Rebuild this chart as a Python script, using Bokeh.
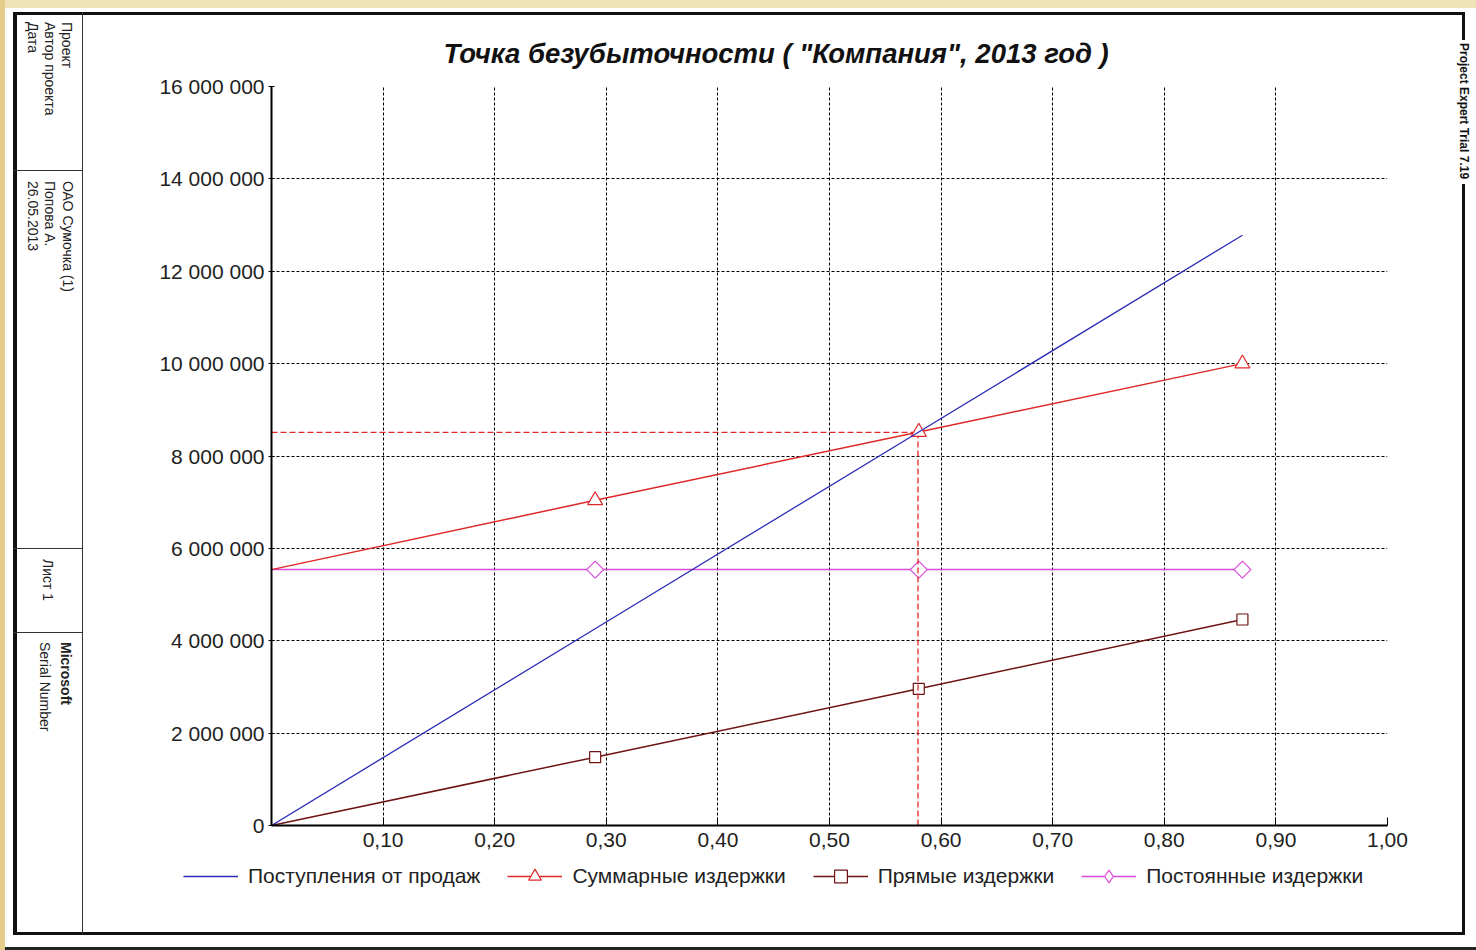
import numpy as np
from bokeh.plotting import figure
from bokeh.layouts import column, row
from bokeh.models import Range1d, FixedTicker, Legend, LegendItem, Div
from bokeh.embed import file_html
from bokeh.resources import INLINE

# ---------------- data ----------------
title_text = 'Точка безубыточности ( "Компания", 2013 год )'
series_names = ["Поступления от продаж", "Суммарные издержки",
                "Прямые издержки", "Постоянные издержки"]
share = [0.0, 0.29, 0.58, 0.87]
revenue = [0, 4_260_000, 8_520_000, 12_780_000]
total_costs = [5_540_000, 7_040_000, 8_520_000, 10_000_000]
direct_costs = [0, 1_480_000, 2_960_000, 4_460_000]
fixed_costs = [5_540_000, 5_540_000, 5_540_000, 5_540_000]

x_ticks = [0.1, 0.2, 0.3, 0.4, 0.5, 0.6, 0.7, 0.8, 0.9, 1.0]
x_tick_labels = ["0,10", "0,20", "0,30", "0,40", "0,50",
                 "0,60", "0,70", "0,80", "0,90", "1,00"]
y_ticks = [0, 2_000_000, 4_000_000, 6_000_000, 8_000_000,
           10_000_000, 12_000_000, 14_000_000, 16_000_000]
y_tick_labels = ["0", "2 000 000", "4 000 000", "6 000 000", "8 000 000",
                 "10 000 000", "12 000 000", "14 000 000", "16 000 000"]

side_heads = ["Проект", "Автор проекта", "Дата"]
side_values = ["ОАО Сумочка (1)", "Попова А.", "26.05.2013"]
sheet_text = "Лист 1"
footer_lines = ["Microsoft", "Serial Number"]
watermark = "Project Expert Trial 7.19"

# break-even point from the revenue and total-cost lines
rev_slope = (revenue[-1] - revenue[0]) / (share[-1] - share[0])
tot_slope = (total_costs[-1] - total_costs[0]) / (share[-1] - share[0])
be_x = (total_costs[0] - revenue[0]) / (rev_slope - tot_slope)
be_y = revenue[0] + rev_slope * be_x

# ---------------- styling ----------------
FONT = "Liberation Sans"
C_REV = "#2b2bb5"
C_TOT = "#e02828"
C_DIR = "#6e1414"
C_FIX = "#d94ad9"
BEIGE = "#f1e3b8"
GOLD = "#e3cc8c"
INK = "#111111"

TOTAL_W, TOTAL_H = 1476, 950
LEFT_W, RIGHT_W = 83, 21
TOP_H, BOT_H = 15, 18
MAIN_W = TOTAL_W - LEFT_W - RIGHT_W
MID_H = TOTAL_H - TOP_H - BOT_H
CHART_H = 842
LEG_H = MID_H - CHART_H


def hbox(x0, y0, l, t, r, b, color):
    return ('<div style="position:absolute;left:%.1fpx;top:%.1fpx;width:%.1fpx;'
            'height:%.1fpx;background:%s;"></div>' % (l - x0, t - y0, r - l, b - t, color))


def htext(x0, y0, cx, top, text, size, weight="normal", span=None, color="#222222"):
    lh = round(size * 1.15, 1)
    extra = ""
    if span is not None:
        extra = "height:%.1fpx;text-align:center;" % span
    return ('<div style="position:absolute;left:%.1fpx;top:%.1fpx;%s'
            'writing-mode:vertical-rl;font-family:\'%s\';font-size:%dpx;'
            'font-weight:%s;line-height:%.1fpx;color:%s;white-space:nowrap;">%s</div>'
            % (cx - x0 - lh / 2, top - y0, extra, FONT, size, weight, lh, color, text))


def panel(width, height, parts):
    html = ('<div style="position:relative;width:%dpx;height:%dpx;overflow:hidden;'
            'background:white;">%s</div>' % (width, height, "".join(parts)))
    return Div(text=html, width=width, height=height,
               styles={"margin": "0", "padding": "0", "overflow": "hidden"})


# left title block: x 0..83, y 0..950
lp = [hbox(0, 0, 0, 0, 83, 8, BEIGE), hbox(0, 0, 0, 0, 5, 950, GOLD),
      hbox(0, 0, 13, 12, 83, 15, INK), hbox(0, 0, 13, 12, 17, 935, INK),
      hbox(0, 0, 13, 932, 83, 935, INK), hbox(0, 0, 5, 947, 83, 950, "#222222"),
      hbox(0, 0, 81.5, 12, 83, 935, "#333333")]
for yy in (169.5, 547.5, 631.5):
    lp.append(hbox(0, 0, 13, yy, 83, yy + 1.5, "#333333"))
for cx, t in zip((67, 50, 33), side_heads):
    lp.append(htext(0, 0, cx, 22, t, 14))
for cx, t in zip((68, 50, 33), side_values):
    lp.append(htext(0, 0, cx, 181, t, 14))
lp.append(htext(0, 0, 48, 539, sheet_text, 14, span=83))
lp.append(htext(0, 0, 66, 642, footer_lines[0], 14, weight="bold"))
lp.append(htext(0, 0, 45, 642, footer_lines[1], 14))
left = panel(LEFT_W, TOTAL_H, lp)

# right edge: x 1455..1476
rp = [hbox(1455, 0, 1455, 0, 1476, 8, BEIGE), hbox(1455, 0, 1455, 12, 1465, 15, INK),
      hbox(1455, 0, 1462, 12, 1465, 40, INK), hbox(1455, 0, 1462, 184, 1465, 935, INK),
      hbox(1455, 0, 1455, 932, 1465, 935, INK), hbox(1455, 0, 1455, 947, 1476, 950, "#222222"),
      htext(1455, 0, 1463.5, 43, watermark, 12, weight="bold", color="#111111")]
right = panel(RIGHT_W, TOTAL_H, rp)

# top and bottom strips over the chart: x 83..1455
top = panel(MAIN_W, TOP_H, [hbox(83, 0, 83, 0, 1455, 8, BEIGE),
                            hbox(83, 0, 83, 12, 1455, 15, INK)])
bot = panel(MAIN_W, BOT_H, [hbox(83, 932, 83, 932, 1455, 935, INK),
                            hbox(83, 932, 83, 947, 1455, 950, "#222222")])

# ---------------- main chart ----------------
p = figure(width=MAIN_W, height=CHART_H, output_backend="svg", toolbar_location=None,
           x_range=Range1d(0, 1.0), y_range=Range1d(0, 16_000_000),
           min_border_left=188, min_border_right=68,
           min_border_top=71, min_border_bottom=32)
p.border_fill_color = "white"
p.background_fill_color = "white"
p.outline_line_color = None

p.title.text = title_text
p.title.text_font = FONT
p.title.text_font_size = "27.5px"
p.title.text_font_style = "bold italic"
p.title.text_color = "#111111"
p.title.align = "left"
p.title.offset = 172
p.title.standoff = 36

# grids
p.xgrid.ticker = FixedTicker(ticks=x_ticks)
p.ygrid.ticker = FixedTicker(ticks=y_ticks[1:])
for g in (p.xgrid, p.ygrid):
    g.grid_line_color = "black"
    g.grid_line_dash = "3 2"
    g.grid_line_width = 1

# axes
p.xaxis.ticker = FixedTicker(ticks=x_ticks)
p.xaxis.major_label_overrides = dict(zip(x_ticks, x_tick_labels))
p.yaxis.ticker = FixedTicker(ticks=y_ticks)
p.yaxis.major_label_overrides = dict(zip(y_ticks, y_tick_labels))
for ax in (p.xaxis, p.yaxis):
    ax.axis_line_color = "black"
    ax.axis_line_width = 2
    ax.major_tick_line_color = "black"
    ax.minor_tick_line_color = None
    ax.major_label_text_font = FONT
    ax.major_label_text_font_size = "21px"
    ax.major_label_text_color = "#222222"
p.xaxis.major_tick_in = 8
p.xaxis.major_tick_out = 0
p.xaxis.major_label_standoff = 7
p.yaxis.major_tick_in = 3
p.yaxis.major_tick_out = 3
p.yaxis.major_label_standoff = 4

# series
STY = {
    "rev": dict(line_color=C_REV, line_width=1.3),
    "tot": dict(line_color=C_TOT, line_width=1.5),
    "dir": dict(line_color=C_DIR, line_width=1.5),
    "fix": dict(line_color=C_FIX, line_width=1.5),
}
MK = {
    "tot": dict(marker="triangle", size=15, line_color=C_TOT, fill_color="white", line_width=1.2),
    "dir": dict(marker="square", size=11, line_color=C_DIR, fill_color="white", line_width=1.2),
    "fix": dict(marker="square", angle=np.pi / 4, size=12, line_color=C_FIX,
                fill_color="white", line_width=1.2),
}
# legend swatches (the legend does not rotate markers, so use a diamond there)
MK_LEG = dict(MK)
MK_LEG["fix"] = dict(marker="diamond", size=16, line_color=C_FIX, fill_color="white",
                     line_width=1.2)
SERIES = {"rev": revenue, "tot": total_costs, "dir": direct_costs, "fix": fixed_costs}

p.line(share, fixed_costs, **STY["fix"])
p.scatter(share[1:], fixed_costs[1:], **MK["fix"])
p.line(share, direct_costs, **STY["dir"])
p.scatter(share[1:], direct_costs[1:], **MK["dir"])
p.line([0, be_x], [be_y, be_y], line_color=C_TOT, line_width=1.3, line_dash="6 3")
p.line([be_x, be_x], [0, be_y], line_color=C_TOT, line_width=1.3, line_dash="6 3")
p.line(share, total_costs, **STY["tot"])
p.scatter(share[1:], total_costs[1:], **MK["tot"])
p.line(share, revenue, **STY["rev"])

# ---------------- legend strip (below the chart) ----------------
# the series are drawn again here outside the visible range, as legend proxies
lg = figure(width=MAIN_W, height=LEG_H, output_backend="svg", toolbar_location=None,
            x_range=Range1d(0, 1), y_range=Range1d(-2, -1),
            x_axis_type=None, y_axis_type=None,
            min_border=0, min_border_left=0, min_border_right=0,
            min_border_top=0, min_border_bottom=0)
lg.grid.visible = False
lg.outline_line_color = None
lg.background_fill_color = "white"
lg.border_fill_color = "white"
items = []
for name, key in zip(series_names, ["rev", "tot", "dir", "fix"]):
    rs = [lg.line(share, SERIES[key], **STY[key])]
    if key in MK_LEG:
        rs.append(lg.scatter(share[1:], SERIES[key][1:], **MK_LEG[key]))
    items.append(LegendItem(label=name, renderers=rs))
legend = Legend(items=items, orientation="horizontal", location=(100, 40),
                border_line_color=None, background_fill_alpha=0, padding=0, margin=0,
                spacing=27, glyph_width=55, glyph_height=32, label_standoff=10,
                label_text_font=FONT, label_text_font_size="21px",
                label_text_color="#222222")
lg.add_layout(legend)

middle = column(top, column(p), column(lg), bot, spacing=0)
layout = row(left, middle, right, spacing=0)

html = file_html(layout, INLINE)
open("out.html", "w").write(html)
